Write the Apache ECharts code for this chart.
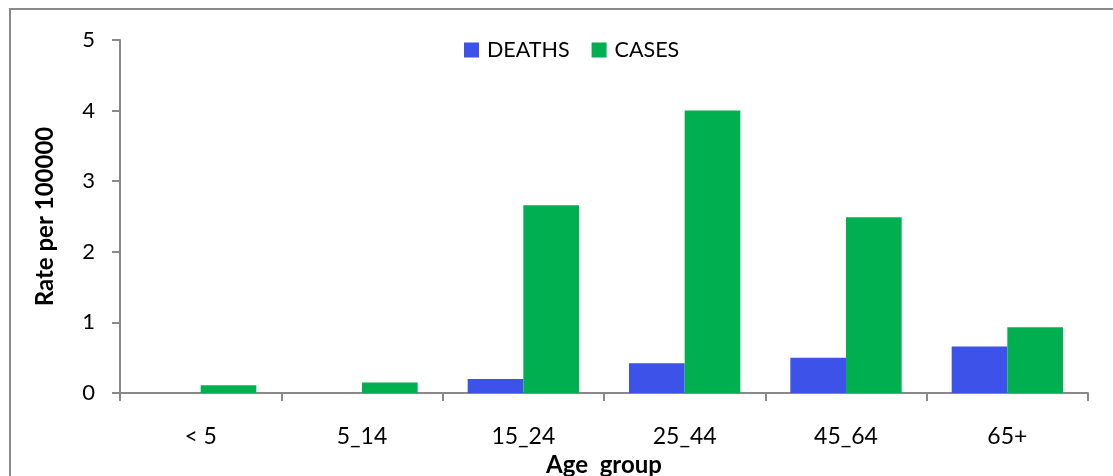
<!DOCTYPE html>
<html>
<head>
<meta charset="utf-8">
<script src="https://cdn.jsdelivr.net/npm/echarts@6/dist/echarts.min.js"></script>
<style>
  html, body { margin: 0; padding: 0; background: #fff; }
  #chart { width: 1113px; height: 476px; }
</style>
</head>
<body>
<div id="chart"></div>
<script>
// Age groups on the category axis
const ageGroups = ['< 5', '5_14', '15_24', '25_44', '45_64', '65+'];
// Rates per 100000 population
const deaths = [0, 0, 0.2, 0.42, 0.5, 0.66];
const cases = [0.11, 0.15, 2.66, 4.0, 2.49, 0.93];
const yTicks = [0, 1, 2, 3, 4, 5];

const FONT = 'Lato, "Open Sans", sans-serif';
const AXIS_GRAY = '#898989';

const chart = echarts.init(document.getElementById('chart'), null, { renderer: 'canvas' });

chart.setOption({
  animation: false,
  backgroundColor: '#ffffff',
  textStyle: { fontFamily: FONT, color: '#000' },
  graphic: [{
    type: 'rect',
    shape: { x: 10, y: 9, width: 1200, height: 600 },
    style: { fill: 'none', stroke: '#8a8a8a', lineWidth: 2 },
    silent: true,
    z: -1
  }],
  legend: {
    top: 34,
    left: 459,
    itemWidth: 15,
    itemHeight: 15,
    itemGap: 22,
    icon: 'rect',
    textStyle: { fontSize: 21.5, fontFamily: FONT, color: '#000', padding: [0, 0, 0, 3] },
    data: ['DEATHS', 'CASES']
  },
  grid: { left: 120, right: 25, top: 40, bottom: 83, containLabel: false, outerBoundsMode: 'none' },
  xAxis: {
    type: 'category',
    data: ageGroups,
    boundaryGap: true,
    name: 'Age  group',
    nameLocation: 'middle',
    nameGap: 57,
    nameTextStyle: { fontSize: 24, fontWeight: 'bold', fontFamily: FONT, color: '#000' },
    axisLine: { lineStyle: { color: AXIS_GRAY, width: 2 } },
    axisTick: { show: true, length: 8, lineStyle: { color: AXIS_GRAY, width: 2 }, alignWithLabel: false },
    axisLabel: { fontSize: 23, fontFamily: FONT, color: '#000', margin: 32 }
  },
  yAxis: {
    type: 'value',
    min: 0,
    max: 5,
    interval: 1,
    name: 'Rate per 100000',
    nameLocation: 'middle',
    nameGap: 63,
    nameRotate: 90,
    nameTextStyle: { fontSize: 24, fontWeight: 'bold', fontFamily: FONT, color: '#000' },
    axisLine: { show: true, lineStyle: { color: AXIS_GRAY, width: 2 } },
    axisTick: { show: true, length: 8, lineStyle: { color: AXIS_GRAY, width: 2 } },
    splitLine: { show: false },
    axisLabel: {
      fontSize: 22, fontFamily: FONT, color: '#000', margin: 25,
      formatter: v => (yTicks.includes(v) ? String(v) : '')
    }
  },
  series: [
    {
      name: 'DEATHS',
      type: 'bar',
      data: deaths,
      barGap: '0%',
      barCategoryGap: '31%',
      itemStyle: { color: '#3d52e8' }
    },
    {
      name: 'CASES',
      type: 'bar',
      data: cases,
      barGap: '0%',
      barCategoryGap: '31%',
      itemStyle: { color: '#00b050' }
    }
  ]
});
</script>
</body>
</html>
